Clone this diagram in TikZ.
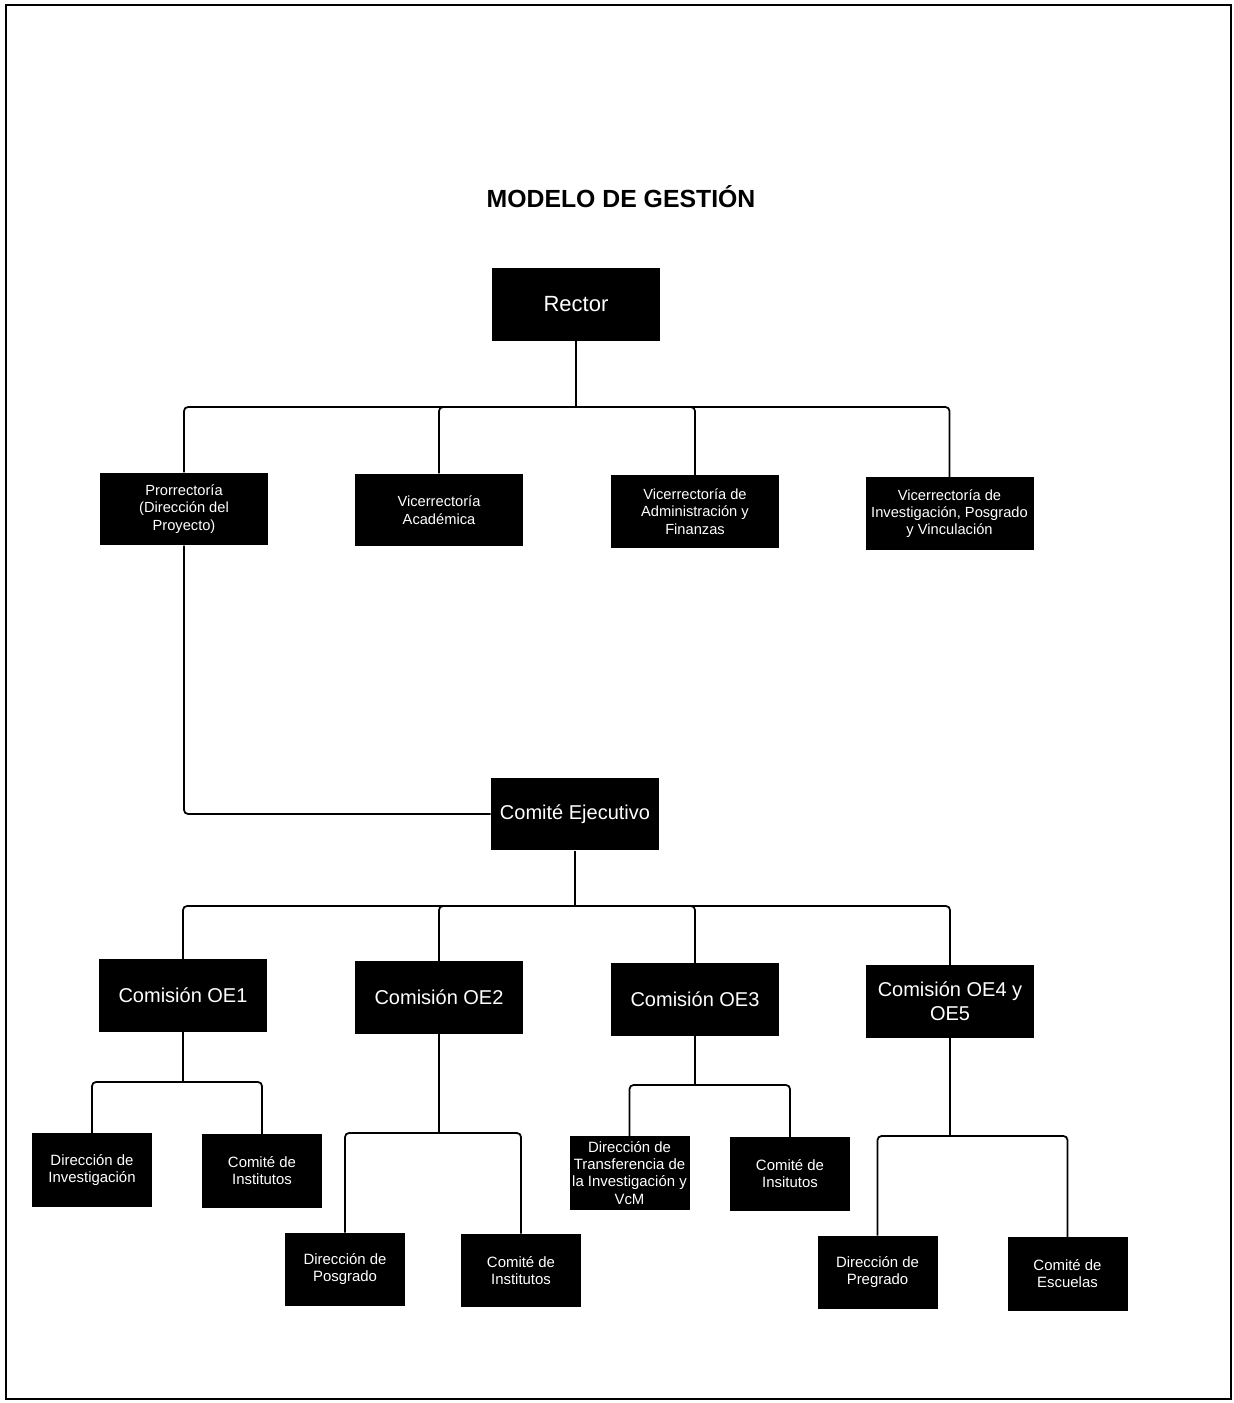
\documentclass[tikz,border=0pt]{standalone}
\usepackage{fontspec}
\setmainfont{Liberation Sans}
\begin{document}
\begin{tikzpicture}[x=0.75pt,y=-0.75pt,
  box/.style={fill=black,text=white,inner sep=0pt,align=center,anchor=center},
  big/.style={box,minimum width=126pt,minimum height=54.5pt,font=\fontsize{15}{18}\selectfont},
  mid/.style={box,minimum width=126pt,minimum height=54.5pt,font=\fontsize{11}{13}\selectfont},
  small/.style={box,minimum width=90pt,minimum height=55pt,font=\fontsize{11.2}{12.8}\selectfont},
  conn/.style={line width=1.3pt,rounded corners=3pt},
  frame/.style={line width=1.1pt}]
\useasboundingbox (0,0) rectangle (1233,1403);
\draw[frame] (6,5) rectangle (1231,1399);
\node (title) at (621,197) {\fontsize{18.6}{20}\selectfont\bfseries MODELO DE GESTIÓN};
% level 1
\node[big,font=\fontsize{16.5}{19}\selectfont] (rector) at (576,304.5) {Rector};
% level 2
\node[mid] (pro) at (184,509) {Prorrectoría\\(Dirección del\\Proyecto)};
\node[mid] (vac) at (439,510) {Vicerrectoría\\Académica};
\node[mid] (vad) at (695,511.5) {Vicerrectoría de\\Administración y\\Finanzas};
\node[mid] (vin) at (949.5,513.5) {Vicerrectoría de\\Investigación, Posgrado\\y Vinculación};
% comite
\node[big] (ce) at (575,814) {Comité Ejecutivo};
% comisiones
\node[big] (oe1) at (183,995.5) {Comisión OE1};
\node[big] (oe2) at (439,997.5) {Comisión OE2};
\node[big] (oe3) at (695,999.5) {Comisión OE3};
\node[big] (oe4) at (950,1001.5) {Comisión OE4 y\\OE5};
% level 4
\node[small] (di) at (92,1170) {Dirección de\\Investigación};
\node[small] (ci1) at (262,1171) {Comité de\\Institutos};
\node[small] (dp) at (345,1269.5) {Dirección de\\Posgrado};
\node[small] (ci2) at (521,1270.5) {Comité de\\Institutos};
\node[small] (dt) at (629.5,1173) {Dirección de\\Transferencia de\\la Investigación y\\VcM};
\node[small] (ci3) at (790,1174) {Comité de\\Insitutos};
\node[small] (dpr) at (877.5,1272.5) {Dirección de\\Pregrado};
\node[small] (ces) at (1067.5,1274) {Comité de\\Escuelas};
% bus levels
\coordinate (b1) at (0,407);
\coordinate (b2) at (0,906);
\coordinate (b3) at (0,1082);
\coordinate (b4) at (0,1133);
\coordinate (b5) at (0,1085);
\coordinate (b6) at (0,1136);
% connectors
\draw[conn] (rector.south) -- (rector.south |- b1);
\foreach \c in {pro,vac,vad,vin}
  \draw[conn] (rector.south |- b1) -| (\c.north);
\draw[conn] (pro.south) |- (ce.west);
\draw[conn] (ce.south) -- (ce.south |- b2);
\foreach \c in {oe1,oe2,oe3,oe4}
  \draw[conn] (ce.south |- b2) -| (\c.north);
\draw[conn] (oe1.south) -- (oe1.south |- b3);
\foreach \c in {di,ci1}
  \draw[conn] (oe1.south |- b3) -| (\c.north);
\draw[conn] (oe2.south) -- (oe2.south |- b4);
\foreach \c in {dp,ci2}
  \draw[conn] (oe2.south |- b4) -| (\c.north);
\draw[conn] (oe3.south) -- (oe3.south |- b5);
\foreach \c in {dt,ci3}
  \draw[conn] (oe3.south |- b5) -| (\c.north);
\draw[conn] (oe4.south) -- (oe4.south |- b6);
\foreach \c in {dpr,ces}
  \draw[conn] (oe4.south |- b6) -| (\c.north);
\end{tikzpicture}
\end{document}
